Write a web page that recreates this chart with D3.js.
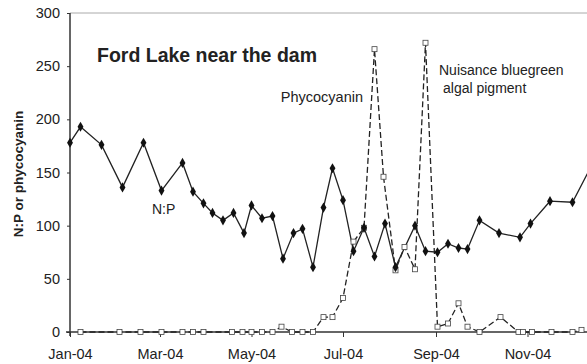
<!DOCTYPE html>

<html>

	<head>

		<script src = "https://cdn.jsdelivr.net/npm/d3@7/dist/d3.min.js"></script>
		<style type="text/css">
			body { margin: 0; background: white; }
			text { font-family: Arial, "Liberation Sans", sans-serif; fill: #222; }
		</style>

	</head>


	<body>

		<script>

			// N:P ratio (solid line)
			var npDates = ["2004-01-01","2004-01-08","2004-01-22","2004-02-05","2004-02-19","2004-03-02","2004-03-16","2004-03-23","2004-03-30","2004-04-05","2004-04-12","2004-04-19","2004-04-26","2004-05-01","2004-05-08","2004-05-15","2004-05-22","2004-05-29","2004-06-04","2004-06-11","2004-06-18","2004-06-24","2004-07-01","2004-07-08","2004-07-15","2004-07-22","2004-07-29","2004-08-05","2004-08-18","2004-08-25","2004-09-02","2004-09-09","2004-09-16","2004-09-22","2004-09-30","2004-10-13","2004-10-27","2004-11-03","2004-11-16","2004-12-01","2004-12-15"];
			var npValues = [178,193,176,136,178,133,159,132,121,112,105,112,93,119,107,109,69,93,97,61,117,154,124,76,98,71,102,61,100,76,75,83,79,78,105,93,89,102,123,122,160];

			// phycocyanin (dashed line)
			var pcDates = ["2004-01-08","2004-02-03","2004-02-17","2004-03-02","2004-03-16","2004-03-23","2004-03-30","2004-04-18","2004-04-25","2004-05-01","2004-05-08","2004-05-15","2004-05-21","2004-05-28","2004-06-04","2004-06-11","2004-06-18","2004-06-24","2004-07-01","2004-07-08","2004-07-15","2004-07-22","2004-07-28","2004-08-05","2004-08-11","2004-08-18","2004-08-25","2004-09-02","2004-09-09","2004-09-16","2004-09-22","2004-09-30","2004-10-14","2004-10-26","2004-10-29","2004-11-04","2004-11-17","2004-12-01","2004-12-07"];
			var pcValues = [0,0,0,0,0,0,0,0,0,0,0,0,5,0,0,0,14,14,32,85,98,266,146,58,80,59,272,5,8,27,5,0,14,0,0,0,0,0,2];

			var yTicks = [0,50,100,150,200,250,300];
			var xTicks = ["2004-01-01","2004-03-01","2004-05-01","2004-07-01","2004-09-01","2004-11-01"];

			var parse = d3.timeParse("%Y-%m-%d");
			var np = npDates.map(function (d, i) { return {date: parse(d), value: npValues[i]}; });
			var pc = pcDates.map(function (d, i) { return {date: parse(d), value: pcValues[i]}; });

			var canvas = d3.select("body").append("svg")
				.attr("width", 587)
				.attr("height", 364)

			var x = d3.scaleTime()
				.domain([parse("2004-01-01"), parse("2005-01-01")])
				.range([70, 619]);

			var y = d3.scaleLinear()
				.domain([0, 300])
				.range([332, 13]);

			// top border
			canvas.append("line")
				.attr("x1", 70).attr("x2", 587)
				.attr("y1", y(300)).attr("y2", y(300))
				.attr("stroke", "#aaa")
				.attr("stroke-width", 1);

			var yAxis = canvas.append("g")
				.attr("transform", "translate(70,0)")
				.call(d3.axisLeft(y).tickValues(yTicks).tickSize(3).tickPadding(7));

			var xAxis = canvas.append("g")
				.attr("transform", "translate(0," + y(0) + ")")
				.call(d3.axisBottom(x)
					.tickValues(xTicks.map(parse))
					.tickFormat(d3.timeFormat("%b-%y"))
					.tickSize(5).tickPadding(12));

			canvas.selectAll(".domain").attr("stroke", "#333").attr("stroke-width", 1.5);
			canvas.selectAll(".tick line").attr("stroke", "#333");
			canvas.selectAll(".tick text").attr("font-size", 14.5).attr("fill", "#333")
				.attr("font-family", "Arial, 'Liberation Sans', sans-serif");
			yAxis.select(".domain").attr("d", "M0," + (y(0) + 4) + "V" + y(300));
			xAxis.select(".domain").attr("d", "M66,0H587");

			var line = d3.line()
				.x(function (d) { return x(d.date); })
				.y(function (d) { return y(d.value); });

			canvas.append("path")
				.datum(pc)
				.attr("d", line)
				.attr("fill", "none")
				.attr("stroke", "#222")
				.attr("stroke-width", 1.3)
				.attr("stroke-dasharray", "6,3");

			canvas.append("path")
				.datum(np)
				.attr("d", line)
				.attr("fill", "none")
				.attr("stroke", "#222")
				.attr("stroke-width", 1.3);

			canvas.selectAll(".pc")
				.data(pc)
				.enter()
				.append("rect")
				.attr("class", "pc")
				.attr("x", function (d) { return x(d.date) - 2.5; })
				.attr("y", function (d) { return y(d.value) - 2.5; })
				.attr("width", 5)
				.attr("height", 5)
				.attr("fill", "white")
				.attr("stroke", "#444")
				.attr("stroke-width", 0.8);

			canvas.selectAll(".np")
				.data(np)
				.enter()
				.append("path")
				.attr("class", "np")
				.attr("d", d3.symbol().type(d3.symbolDiamond).size(30))
				.attr("transform", function (d) { return "translate(" + x(d.date) + "," + y(d.value) + ")"; })
				.attr("fill", "#111");

			canvas.append("text")
				.attr("x", 97)
				.attr("y", 62)
				.attr("font-size", 19.5)
				.attr("font-weight", "bold")
				.text("Ford Lake near the dam");

			canvas.append("text")
				.attr("transform", "translate(23,174) rotate(-90)")
				.attr("text-anchor", "middle")
				.attr("font-size", 13.5)
				.attr("font-weight", "bold")
				.text("N:P or phycocyanin");

			canvas.append("text")
				.attr("x", 363)
				.attr("y", 102)
				.attr("text-anchor", "end")
				.attr("font-size", 14.5)
				.text("Phycocyanin");

			canvas.append("text")
				.attr("x", 152)
				.attr("y", 214)
				.attr("font-size", 14)
				.text("N:P");

			canvas.append("text")
				.attr("x", 439)
				.attr("y", 75)
				.attr("font-size", 14)
				.text("Nuisance bluegreen");

			canvas.append("text")
				.attr("x", 443)
				.attr("y", 93)
				.attr("font-size", 14)
				.text("algal pigment");

		</script>

	</body>

</html>
